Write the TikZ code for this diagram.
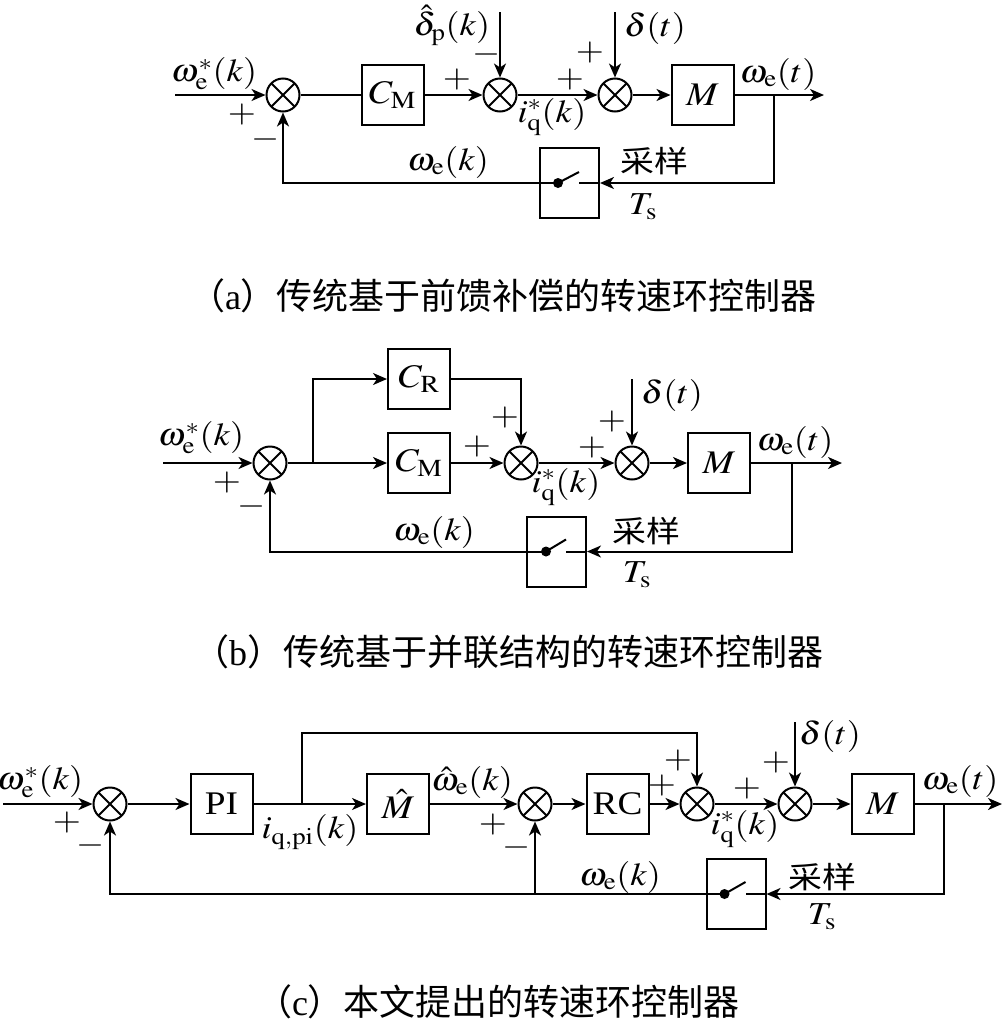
\documentclass[tikz,border=0pt]{standalone}
\usepackage{mathptmx}
\usepackage[no-math]{fontspec}
\setmainfont{Liberation Serif}
\newfontfamily\cjk{Noto Sans CJK SC}
\usepackage{graphicx}
\usetikzlibrary{arrows.meta,calc}
\newcommand\hsx[1]{\scalebox{1.13}[1]{#1}}
\tikzset{
  sumj/.style={circle, draw, line width=2pt, minimum size=33pt, inner sep=0pt,
    path picture={\draw[line width=1.8pt] (path picture bounding box.north west) -- (path picture bounding box.south east)
      (path picture bounding box.north east) -- (path picture bounding box.south west);}},
  blk/.style={draw, line width=2pt, minimum width=62pt, minimum height=60pt, inner sep=0pt, font=\fontsize{33}{33}\selectfont},
  swbox/.style={draw, line width=2pt, minimum width=59pt, minimum height=70pt, inner sep=0pt},
  arr/.style={-{Stealth[length=14pt,width=12pt,inset=4pt]}},
  lbl/.style={inner sep=0pt, font=\fontsize{32}{32}\selectfont},
  cjklbl/.style={inner sep=0pt, font=\cjk\fontsize{30}{30}\selectfont},
  captext/.style={inner sep=0pt, font=\cjk\fontsize{36}{36}\selectfont},
}
\begin{document}
\begin{tikzpicture}[x=1pt,y=-1pt,line width=2pt]
\path[fill=white] (0,0) rectangle (1004,1023);
\useasboundingbox (0,0) rectangle (1004,1023);

% ---------------- panel (a)
\node[sumj] (a1) at (283,95) {};
\node[blk] (aCM) at (392.5,95) {\hsx{$C_{\mathrm{M}}$}};
\node[sumj] (a2) at (500,95) {};
\node[sumj] (a3) at (615,95) {};
\node[blk] (aM) at (702.5,95) {\hsx{$M$}};
\node[swbox] (aS) at (569.5,183) {};
\coordinate (aIn) at (175,95);
\coordinate (aOut) at (824,95);
\coordinate (aBr) at (774,95);
\coordinate (aD1) at (500,12);
\coordinate (aD2) at (615,12);
\coordinate (aSd) at ($(aS.west)+(19,0)$);
\draw[arr] (aIn) -- (a1);
\draw (a1) -- (aCM);
\draw[arr] (aCM) -- (a2);
\draw[arr] (a2) -- (a3);
\draw[arr] (a3) -- (aM);
\draw[arr] (aM) -- (aOut);
\draw[arr] (aD1) -- (a2);
\draw[arr] (aD2) -- (a3);
\draw[arr] (aBr) |- (aS.east);
\draw (aS.east) -- ++(-21,0);
\draw (aSd) -- ++(21,-11);
\fill (aSd) circle[radius=5pt];
\draw[arr] (aSd) -| (a1);
\node[lbl] (aL1) at (214,74) {\hsx{$\omega_{\mathrm{e}}^{*}(k)$}};
\node[lbl] (aP1) at (242,115) {\hsx{$+$}};
\node[lbl] (aM1) at (266,139) {\hsx{$-$}};
\node[lbl] (aP2) at (457,80) {\hsx{$+$}};
\node[lbl] (aL2) at (452,25) {\hsx{$\hat{\delta}_{\mathrm{p}}(k)$}};
\node[lbl] (aM2) at (487,54) {\hsx{$-$}};
\node[lbl] (aP3) at (570,80) {\hsx{$+$}};
\node[lbl] (aL3) at (552,117) {\hsx{$i_{\mathrm{q}}^{*}(k)$}};
\node[lbl] (aP4) at (590,53) {\hsx{$+$}};
\node[lbl] (aL4) at (655,28) {\hsx{$\delta(t)$}};
\node[lbl] (aL5) at (778,74) {\hsx{$\omega_{\mathrm{e}}(t)$}};
\node[lbl] (aL6) at (448,162) {\hsx{$\omega_{\mathrm{e}}(k)$}};
\node[cjklbl] (aL7) at (654,161) {\hsx{采样}};
\node[lbl] (aL8) at (643,207) {\hsx{$T_{\mathrm{s}}$}};
\node[captext] (capA) at (503,296) {（{\rmfamily a}）传统基于前馈补偿的转速环控制器};

% ---------------- panel (b)
\node[sumj] (b1) at (270,463) {};
\node[blk] (bCR) at (419,379) {\hsx{$C_{\mathrm{R}}$}};
\node[blk] (bCM) at (419,463) {\hsx{$C_{\mathrm{M}}$}};
\node[sumj] (b2) at (521,463) {};
\node[sumj] (b3) at (632,463) {};
\node[blk] (bM) at (719,463) {\hsx{$M$}};
\node[swbox] (bS) at (556.5,551.5) {};
\coordinate (bIn) at (163,463);
\coordinate (bOut) at (842,463);
\coordinate (bBr) at (792,463);
\coordinate (bJ) at (313,463);
\coordinate (bD) at (632,379);
\coordinate (bSd) at ($(bS.west)+(20,0)$);
\draw[arr] (bIn) -- (b1);
\draw[arr] (b1) -- (bCM);
\draw[arr] (bJ) |- (bCR);
\draw[arr] (bCR) -| (b2);
\draw[arr] (bCM) -- (b2);
\draw[arr] (b2) -- (b3);
\draw[arr] (b3) -- (bM);
\draw[arr] (bM) -- (bOut);
\draw[arr] (bD) -- (b3);
\draw[arr] (bBr) |- (bS.east);
\draw (bS.east) -- ++(-21,0);
\draw (bSd) -- ++(20,-12);
\fill (bSd) circle[radius=5pt];
\draw[arr] (bSd) -| (b1);
\node[lbl] (bL1) at (201,438) {\hsx{$\omega_{\mathrm{e}}^{*}(k)$}};
\node[lbl] (bP1) at (227,483) {\hsx{$+$}};
\node[lbl] (bM1) at (252,506) {\hsx{$-$}};
\node[lbl] (bP2) at (477,447) {\hsx{$+$}};
\node[lbl] (bP3) at (505,418) {\hsx{$+$}};
\node[lbl] (bP4) at (592,448) {\hsx{$+$}};
\node[lbl] (bL3) at (566,487) {\hsx{$i_{\mathrm{q}}^{*}(k)$}};
\node[lbl] (bP5) at (612,422) {\hsx{$+$}};
\node[lbl] (bL4) at (672,395) {\hsx{$\delta(t)$}};
\node[lbl] (bL5) at (795,442) {\hsx{$\omega_{\mathrm{e}}(t)$}};
\node[lbl] (bL6) at (434,532) {\hsx{$\omega_{\mathrm{e}}(k)$}};
\node[cjklbl] (bL7) at (646,531) {\hsx{采样}};
\node[lbl] (bL8) at (637,575) {\hsx{$T_{\mathrm{s}}$}};
\node[captext] (capB) at (508,652) {（{\rmfamily b}）传统基于并联结构的转速环控制器};

% ---------------- panel (c)
\node[sumj] (c1) at (110,804) {};
\node[blk] (cPI) at (221.5,804) {\hsx{PI}};
\node[blk] (cMh) at (398,804) {\hsx{$\hat{M}$}};
\node[sumj] (c2) at (535,804) {};
\node[blk] (cRC) at (617.5,804) {\hsx{RC}};
\node[sumj] (c3) at (697,804) {};
\node[sumj] (c4) at (795,804) {};
\node[blk] (cM) at (882.5,804) {\hsx{$M$}};
\node[swbox] (cS) at (736,894) {};
\coordinate (cIn) at (3,804);
\coordinate (cOut) at (1002,804);
\coordinate (cBr) at (944,804);
\coordinate (cJ) at (302,804);
\coordinate (cT) at (302,733);
\coordinate (cD) at (795,722);
\coordinate (cF) at (535,894);
\coordinate (cSd) at ($(cS.west)+(19,0)$);
\draw[arr] (cIn) -- (c1);
\draw[arr] (c1) -- (cPI);
\draw[arr] (cPI) -- (cMh);
\draw[arr] (cJ) -- (cT) -| (c3);
\draw[arr] (cMh) -- (c2);
\draw[arr] (c2) -- (cRC);
\draw[arr] (cRC) -- (c3);
\draw[arr] (c3) -- (c4);
\draw[arr] (c4) -- (cM);
\draw[arr] (cM) -- (cOut);
\draw[arr] (cD) -- (c4);
\draw[arr] (cBr) |- (cS.east);
\draw (cS.east) -- ++(-21,0);
\draw (cSd) -- ++(21,-12);
\fill (cSd) circle[radius=5pt];
\draw[arr] (cSd) -| (c1);
\draw[arr] (cF) -- (c2);
\node[lbl] (cL1) at (40,782) {\hsx{$\omega_{\mathrm{e}}^{*}(k)$}};
\node[lbl] (cP1) at (67,822) {\hsx{$+$}};
\node[lbl] (cM1) at (91,845) {\hsx{$-$}};
\node[lbl] (cL2) at (310,832) {\hsx{$i_{\mathrm{q,pi}}(k)$}};
\node[lbl] (cL3) at (472,782) {\hsx{$\hat{\omega}_{\mathrm{e}}(k)$}};
\node[lbl] (cP2) at (493,824) {\hsx{$+$}};
\node[lbl] (cM2) at (517,847) {\hsx{$-$}};
\node[lbl] (cP3) at (662,785) {\hsx{$+$}};
\node[lbl] (cP4) at (678,760) {\hsx{$+$}};
\node[lbl] (cP5) at (747,788) {\hsx{$+$}};
\node[lbl] (cL4) at (745,829) {\hsx{$i_{\mathrm{q}}^{*}(k)$}};
\node[lbl] (cP6) at (776,762) {\hsx{$+$}};
\node[lbl] (cL5) at (830,736) {\hsx{$\delta(t)$}};
\node[lbl] (cL6) at (960,781) {\hsx{$\omega_{\mathrm{e}}(t)$}};
\node[lbl] (cL7) at (620,877) {\hsx{$\omega_{\mathrm{e}}(k)$}};
\node[cjklbl] (cL8) at (822,877) {\hsx{采样}};
\node[lbl] (cL9) at (822,917) {\hsx{$T_{\mathrm{s}}$}};
\node[captext] (capC) at (498,1002) {（{\rmfamily c}）本文提出的转速环控制器};
\end{tikzpicture}
\end{document}
